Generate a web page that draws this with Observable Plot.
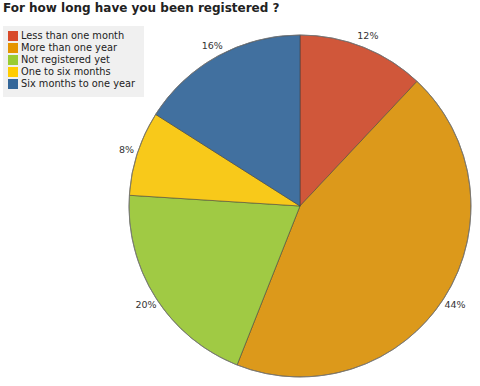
<!DOCTYPE html>
<html><head><meta charset="utf-8">
<script src="https://cdn.jsdelivr.net/npm/d3@7"></script>
<script src="https://cdn.jsdelivr.net/npm/@observablehq/plot@0.6"></script>
<style>
body{margin:0;background:#fff;font-family:"DejaVu Sans",Verdana,sans-serif;}
#wrap{position:relative;width:480px;height:386px;overflow:hidden;}
#title{position:absolute;left:3px;top:1px;font-weight:bold;font-size:12px;color:#222;white-space:nowrap;}
#legend{position:absolute;left:3px;top:26px;width:141px;height:71px;background:#f0f0f0;box-sizing:border-box;padding:4px 0 0 5px;}
.row{height:12px;line-height:12px;font-size:9.8px;color:#222;white-space:nowrap;display:flex;align-items:center;}
.sw{width:10px;height:10px;margin-right:3px;flex:none;}
#chart{position:absolute;left:0;top:0;}
</style></head>
<body>
<div id="wrap">
<div id="chart"></div>
<div id="title"></div>
<div id="legend"></div>
</div>
<script>
const title = "For how long have you been registered ?";
const categories = ["Less than one month","More than one year","Not registered yet","One to six months","Six months to one year"];
const values = [12, 44, 20, 8, 16];
const sliceColors = ["#d0573a","#dc991b","#a0ca44","#f8c91a","#41709f"];
const legendColors = ["#d84a2a","#e59400","#99cc33","#ffcc00","#336699"];

const data = categories.map((c,i)=>({category:c, value:values[i]}));
const total = d3.sum(values);
const pie = d3.pie().value(d=>d.value).sort(null)(data);
const R = 171, labelR = 183;

const W = 480, H = 386, cx = 300, cy = 206;

const labels = pie.map(p => {
  const a = (p.startAngle + p.endAngle)/2;
  return {x: Math.sin(a)*labelR, y: -Math.cos(a)*labelR, text: Math.round(p.data.value/total*100) + "%"};
});

const slicesMark = (index, scales, values, dims) => {
  const g = d3.create("svg:g");
  const x0 = scales.x(0), y0 = scales.y(0);
  const r = Math.abs(scales.x(R) - scales.x(0));
  const arc = d3.arc().innerRadius(0).outerRadius(r);
  g.selectAll("path").data(pie).join("path")
    .attr("transform", `translate(${x0},${y0})`)
    .attr("d", arc)
    .attr("fill", (d,i)=>sliceColors[i])
    .attr("stroke", "#3a3a3a")
    .attr("stroke-opacity", 0.75)
    .attr("stroke-width", 0.7)
    .attr("stroke-linejoin","round");
  g.append("circle").attr("cx",x0).attr("cy",y0).attr("r",r)
    .attr("fill","none").attr("stroke","#777").attr("stroke-width",0.8);
  return g.node();
};

const chart = Plot.plot({
  width: W, height: H,
  margin: 0,
  x: {domain: [-cx, W-cx], range: [0, W], axis: null},
  y: {domain: [-cy, H-cy], range: [0, H], axis: null},
  style: {fontFamily: "DejaVu Sans, sans-serif", background: "transparent"},
  marks: [
    slicesMark,
    Plot.text(labels, {x:"x", y:"y", text:"text", fontSize: 9.5, fill: "#333"})
  ]
});
document.getElementById("chart").appendChild(chart);
document.getElementById("title").textContent = title;
const leg = document.getElementById("legend");
categories.forEach((c,i)=>{
  const row = document.createElement("div"); row.className="row";
  const sw = document.createElement("span"); sw.className="sw"; sw.style.background=legendColors[i];
  const t = document.createElement("span"); t.textContent = c;
  row.appendChild(sw); row.appendChild(t); leg.appendChild(row);
});
</script>
</body></html>
